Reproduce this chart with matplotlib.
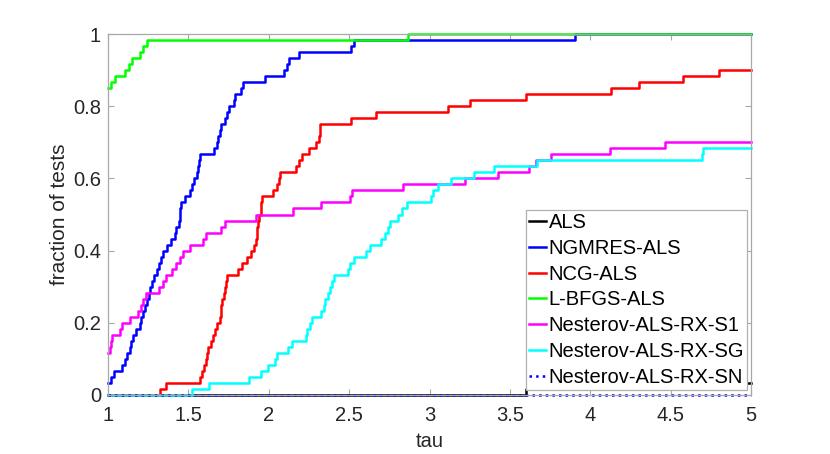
import numpy as np
import matplotlib
matplotlib.use("Agg")
import matplotlib.pyplot as plt

plt.rcParams['font.family'] = ['Liberation Sans', 'DejaVu Sans']

N_TESTS = 60

labels = ["ALS", "NGMRES-ALS", "NCG-ALS", "L-BFGS-ALS",
          "Nesterov-ALS-RX-S1", "Nesterov-ALS-RX-SG", "Nesterov-ALS-RX-SN"]
colors = ["#000000", "#0000ff", "#ff0000", "#00ff00", "#ff00ff", "#00ffff", "#0000ff"]
styles = ["-", "-", "-", "-", "-", "-", ":"]

# step profiles: start count at tau=1, then (tau, count) breakpoints
als_start = 0
als_tau = [3.600, 4.250]
als_cnt = [1, 2]

ngm_start = 2
ngm_tau = [1.019, 1.040, 1.090, 1.103, 1.121, 1.134, 1.146, 1.156, 1.174, 1.196,
           1.205, 1.215, 1.230, 1.243, 1.252, 1.264, 1.274, 1.289, 1.305, 1.320,
           1.330, 1.342, 1.370, 1.392, 1.414, 1.426, 1.439, 1.445, 1.451, 1.457,
           1.476, 1.513, 1.523, 1.532, 1.551, 1.560, 1.566, 1.572, 1.659, 1.681,
           1.687, 1.694, 1.700, 1.728, 1.740, 1.750, 1.784, 1.793, 1.830, 1.840,
           1.974, 2.095, 2.114, 2.123, 2.191, 2.509, 2.533, 3.905]
ngm_cnt = list(range(3, 61))

ncg_start = 0
ncg_tau = [1.323, 1.361, 1.575, 1.585, 1.597, 1.607, 1.616, 1.625, 1.641, 1.656,
           1.666, 1.681, 1.694, 1.700, 1.706, 1.712, 1.722, 1.728, 1.734, 1.740,
           1.809, 1.834, 1.862, 1.890, 1.908, 1.918, 1.924, 1.930, 1.936, 1.942,
           1.949, 1.952, 1.958, 2.026, 2.051, 2.064, 2.070, 2.170, 2.188, 2.204,
           2.253, 2.297, 2.313, 2.316, 2.319, 2.509, 2.667, 3.118, 3.249, 3.600,
           4.129, 4.306, 4.580, 4.801]
ncg_cnt = list(range(1, 55))

lbf_start = 51
lbf_tau = [1.019, 1.044, 1.103, 1.128, 1.149, 1.196, 1.218, 1.240, 2.869]
lbf_cnt = list(range(52, 61))

s1_start = 7
s1_tau = [1.012, 1.019, 1.025, 1.075, 1.087, 1.137, 1.187, 1.205, 1.218, 1.236,
          1.317, 1.342, 1.361, 1.398, 1.423, 1.448, 1.467, 1.507, 1.588, 1.610,
          1.703, 1.725, 1.921, 2.148, 2.325, 2.505, 2.515, 2.835, 3.218, 3.426,
          3.619, 3.663, 3.756, 4.120, 4.462]
s1_cnt = list(range(8, 43))

sg_start = 0
sg_tau = [1.523, 1.628, 1.877, 1.952, 1.995, 2.036, 2.054, 2.120, 2.145, 2.229,
          2.241, 2.257, 2.269, 2.325, 2.341, 2.353, 2.369, 2.381, 2.393, 2.403,
          2.493, 2.505, 2.530, 2.605, 2.627, 2.701, 2.723, 2.742, 2.754, 2.804,
          2.829, 2.860, 3.012, 3.022, 3.053, 3.134, 3.277, 3.401, 3.669, 4.695,
          4.704]
sg_cnt = list(range(1, 42))

sn_start = 0
sn_tau = []
sn_cnt = []

series = [(als_start, als_tau, als_cnt), (ngm_start, ngm_tau, ngm_cnt),
          (ncg_start, ncg_tau, ncg_cnt), (lbf_start, lbf_tau, lbf_cnt),
          (s1_start, s1_tau, s1_cnt), (sg_start, sg_tau, sg_cnt),
          (sn_start, sn_tau, sn_cnt)]

TAU_MIN, TAU_MAX = 1.0, 5.0

fig = plt.figure(figsize=(8.30, 4.54), dpi=100)
ax = fig.add_axes([108/830, 59/454, 643/830, 361/454])

for (start, taus, cnts), lab, col, ls in zip(series, labels, colors, styles):
    x = np.array([TAU_MIN] + list(taus) + [TAU_MAX])
    y = np.array([start] + list(cnts) + [cnts[-1] if cnts else start]) / N_TESTS
    ax.plot(x, y, drawstyle='steps-post', color=col, linestyle=ls,
            linewidth=1.8, label=lab, clip_on=False)

ax.set_xlim(TAU_MIN, TAU_MAX)
ax.set_ylim(0, 1)
ax.set_xticks([1, 1.5, 2, 2.5, 3, 3.5, 4, 4.5, 5])
ax.set_xticklabels(["1", "1.5", "2", "2.5", "3", "3.5", "4", "4.5", "5"])
ax.set_yticks([0, 0.2, 0.4, 0.6, 0.8, 1])
ax.set_yticklabels(["0", "0.2", "0.4", "0.6", "0.8", "1"])

spine_col = '#a8a8a8'
for s in ax.spines.values():
    s.set_color(spine_col)
    s.set_linewidth(0.9)
ax.tick_params(direction='in', length=4.5, width=0.8, color=spine_col,
               labelcolor='#262626', labelsize=14.5, top=True, right=True, pad=5)
ax.tick_params(axis='x', pad=8)

ax.set_xlabel("tau", fontsize=14.5, color='#262626')
ax.set_ylabel("fraction of tests", fontsize=15, color='#262626')
ax.xaxis.set_label_coords(0.5, -0.103)
ax.yaxis.set_label_coords(-0.060, 0.5)

leg = ax.legend(loc='lower right', bbox_to_anchor=((747-108)/643, (395-390)/361),
                borderaxespad=0, fontsize=14.5, frameon=True, fancybox=False,
                edgecolor='#b0b0b0', framealpha=1, handlelength=0.86,
                handletextpad=0.13, labelspacing=0.34, borderpad=0.15)
leg.get_frame().set_linewidth(0.9)
for t in leg.get_texts():
    t.set_color('#000000')

fig.savefig("out.png", dpi=100)
